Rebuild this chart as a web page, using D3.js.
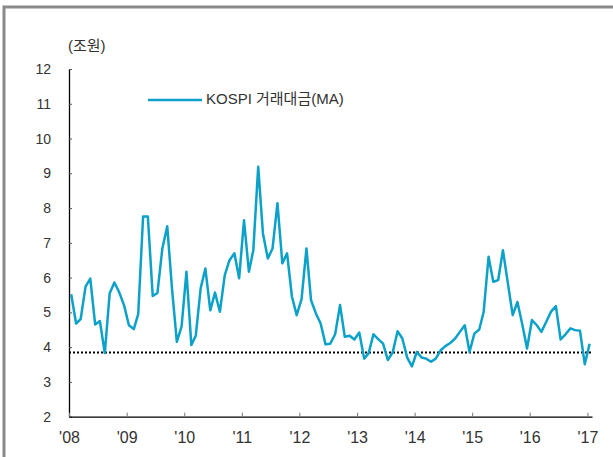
<!DOCTYPE html>
<html>
<head>
<meta charset="utf-8">
<script src="https://cdn.jsdelivr.net/npm/d3@7"></script>
<style>
	body { margin: 0; background: #fff; }
	text { font-family: "Liberation Sans", "Noto Sans CJK KR", sans-serif; fill: #333; }
</style>
</head>
<body>
<svg id="chart" width="613" height="457"></svg>
<script>
//monthly KOSPI trading value (moving avg), Jan 2008 .. Jan 2017, in trillion won
const startYear = 2008
const values = [
	5.52, 4.68, 4.81, 5.74, 5.97, 4.65, 4.75, 3.83, 5.55, 5.86, 5.57, 5.21,
	4.63, 4.52, 4.95, 7.76, 7.76, 5.47, 5.56, 6.84, 7.48, 5.7, 4.15, 4.6,
	6.17, 4.06, 4.33, 5.69, 6.26, 5.06, 5.57, 5.02, 6.07, 6.5, 6.7, 5.98,
	7.65, 6.17, 6.79, 9.19, 7.27, 6.55, 6.84, 8.14, 6.41, 6.7, 5.45, 4.92,
	5.38, 6.84, 5.35, 4.97, 4.68, 4.08, 4.1, 4.37, 5.21, 4.3, 4.33, 4.22,
	4.42, 3.67, 3.82, 4.37, 4.23, 4.1, 3.63, 3.85, 4.46, 4.25, 3.7, 3.45,
	3.86, 3.7, 3.67, 3.58, 3.67, 3.91, 4.03, 4.12, 4.25, 4.44, 4.63, 3.86,
	4.39, 4.51, 5.02, 6.6, 5.88, 5.93, 6.79, 5.85, 4.92, 5.3, 4.65, 3.96,
	4.78, 4.63, 4.44, 4.73, 5.02, 5.18, 4.22, 4.37, 4.54, 4.49, 4.47, 3.51,
	4.1
]
const refLevel = 3.85
const seriesName = "KOSPI 거래대금(MA)"
const unitLabel = "(조원)"
const yTicks = [2, 3, 4, 5, 6, 7, 8, 9, 10, 11, 12]

//points sit mid-month, year ticks on Jan 1
const data = values.map((v, i) => ({ date: new Date(startYear, i, 15), value: v }))

const svg = d3.select("#chart")

//outer gray frame (runs off the right/bottom of the crop)
svg.append("rect")
	.attr("x", 4).attr("y", 7)
	.attr("width", 700).attr("height", 500)
	.attr("fill", "none")
	.attr("stroke", "#8a8a8a")
	.attr("stroke-width", 3)

const x = d3.scaleTime()
	.domain([new Date(startYear, 0, 1), new Date(2017, 0, 30)])
	.range([69, 592])

const y = d3.scaleLinear()
	.domain([2, 12])
	.range([416.7, 69])

const yAxis = svg.append("g")
	.attr("transform", `translate(${x.range()[0]},0)`)
	.call(d3.axisLeft(y).tickValues(yTicks).tickSize(-3).tickSizeOuter(0).tickPadding(18))
yAxis.select(".domain").attr("stroke", "#000").attr("stroke-width", 1.3)
yAxis.selectAll(".tick line").attr("stroke", "#555")
yAxis.selectAll("text").attr("font-size", 14).attr("fill", "#333")

const xAxis = svg.append("g")
	.attr("transform", `translate(0,${y.range()[0]})`)
	.call(d3.axisBottom(x).ticks(d3.timeYear.every(1)).tickSize(-4).tickSizeOuter(0).tickPadding(15)
		.tickFormat(d => "'" + d3.timeFormat("%y")(d)))
xAxis.select(".domain").attr("stroke", "#000").attr("stroke-width", 1.3)
xAxis.selectAll(".tick line").attr("stroke", "#777")
xAxis.selectAll("text").attr("font-size", 16).attr("fill", "#333")

//dotted reference line
svg.append("line")
	.attr("x1", x.range()[0]).attr("x2", x.range()[1])
	.attr("y1", y(refLevel)).attr("y2", y(refLevel))
	.attr("stroke", "#000")
	.attr("stroke-width", 2)
	.attr("stroke-dasharray", "2,2")

const line = d3.line()
	.x(d => x(d.date))
	.y(d => y(d.value))

svg.append("path")
	.datum(data)
	.attr("d", line)
	.attr("fill", "none")
	.attr("stroke", "#0ca1c8")
	.attr("stroke-width", 2.5)
	.attr("stroke-linejoin", "round")

svg.append("text")
	.attr("x", 68).attr("y", 47)
	.attr("dominant-baseline", "middle")
	.attr("font-size", 15)
	.text(unitLabel)

//legend
const legend = svg.append("g").attr("transform", "translate(148,100)")
legend.append("line")
	.attr("x1", 0).attr("x2", 54)
	.attr("stroke", "#0ca1c8")
	.attr("stroke-width", 2.5)
legend.append("text")
	.attr("x", 58)
	.attr("dominant-baseline", "middle")
	.attr("font-size", 15)
	.text(seriesName)
</script>
</body>
</html>
